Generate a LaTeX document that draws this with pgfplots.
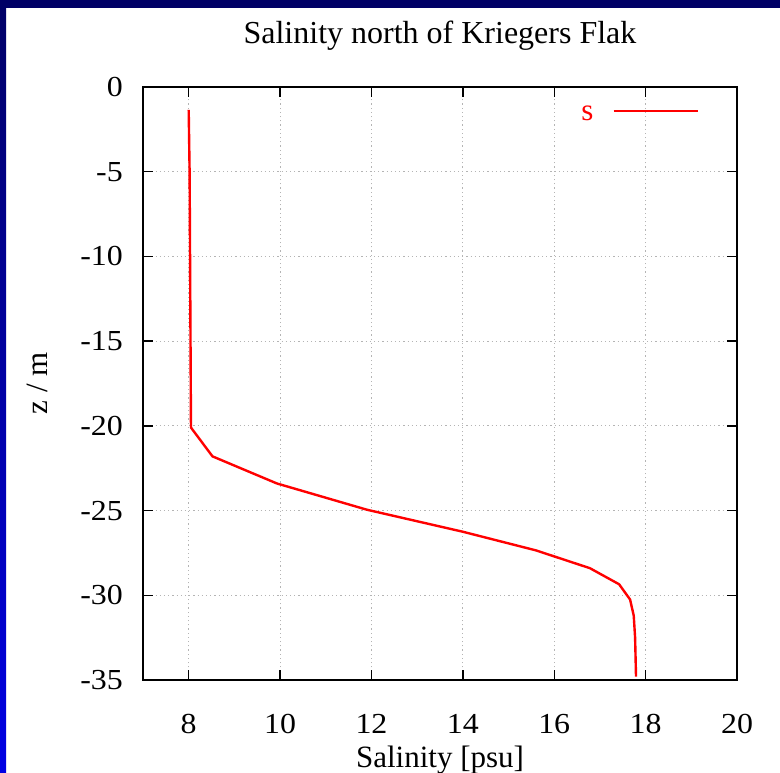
\documentclass[border=0pt]{standalone}
\usepackage{fontspec}
\setmainfont{Liberation Serif}
\newfontfamily\tickfont{Liberation Serif}[FakeStretch=1.1]
\usepackage{pgfplots}
\usepackage{pgfplotstable}
\pgfplotsset{compat=1.18}

\definecolor{framenavy}{RGB}{0,0,102}
\definecolor{framebright}{RGB}{0,0,228}
\definecolor{gridgray}{RGB}{180,180,180}

% salinity profile: salinity [psu], depth z [m]
\pgfplotstableread{
s      z
8.00  -1.35
8.02  -5.0
8.03  -10.0
8.04  -15.0
8.05  -20.1
8.52  -21.8
9.93  -23.4
11.90 -24.95
14.00 -26.25
15.60 -27.35
16.78 -28.40
17.42 -29.35
17.66 -30.25
17.74 -31.20
17.77 -32.50
17.79 -34.80
}\profile

\begin{document}
\begin{tikzpicture}[x=1pt,y=1pt]
\useasboundingbox (0,0) rectangle (780,773);
\fill[white] (0,0) rectangle (780,773);
% slide frame
\shade[top color=framenavy, bottom color=framebright] (0,0) rectangle (6,773);
\fill[framenavy] (0,765) rectangle (780,773);
\begin{axis}[
  at={(143pt,93pt)}, anchor=south west,
  scale only axis, width=594pt, height=593pt,
  xmin=7, xmax=20, ymin=-35, ymax=0,
  xtick={8,10,...,20}, ytick={-35,-30,...,0},
  tick align=inside, major tick length=10pt,
  every tick/.style={black, line width=1.4pt},
  axis line style={line width=1.9pt},
  grid=major,
  major grid style={gridgray, line width=1pt, dash pattern=on 1.2pt off 3pt},
  /pgf/number format/assume math mode=true,
  ticklabel style={font=\tickfont\fontsize{29}{32}\selectfont},
  xticklabel style={anchor=base, inner sep=0pt, yshift=-54pt},
  yticklabel style={anchor=east, inner sep=0pt, xshift=-20pt},
  title={Salinity north of Kriegers Flak},
  title style={at={(axis description cs:0.5,1.0624)}, anchor=base, inner sep=0pt,
    font=\fontsize{32}{36}\selectfont},
  xlabel={Salinity [psu]},
  xlabel style={at={(axis description cs:0.5,-0.148)}, anchor=base, inner sep=0pt,
    font=\fontsize{31}{36}\selectfont},
  ylabel={z / m},
  ylabel style={at={(axis description cs:-0.178,0.5)}, anchor=center, inner sep=0pt,
    font=\fontsize{31}{36}\selectfont},
  legend plot pos=right,
  legend image code/.code={\path (0pt,0pt); \draw[#1] (19pt,0pt) -- (103pt,0pt);},
  legend style={at={(axis description cs:0.936,0.9595)}, anchor=east,
    draw=none, fill=none, inner sep=0pt,
    nodes={inner sep=0pt}},
]
\addplot[red, line width=2.4pt, line join=round] table[x=s, y=z] {\profile};
\addlegendentry{\fontsize{31}{32}\selectfont\color{red}\raisebox{-5pt}{s}}
\end{axis}
\end{tikzpicture}
\end{document}
